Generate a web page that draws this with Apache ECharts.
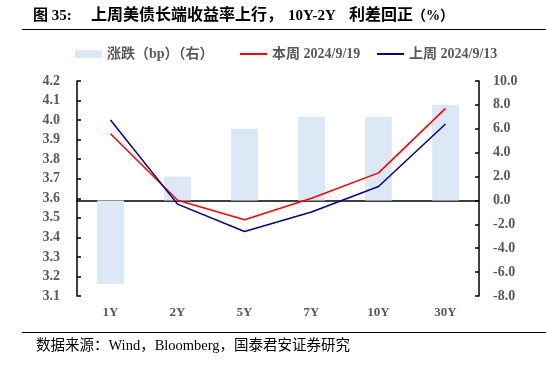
<!DOCTYPE html>
<html><head><meta charset="utf-8">
<script src="https://cdn.jsdelivr.net/npm/echarts@6/dist/echarts.min.js"></script>
<style>html,body{margin:0;padding:0;background:#fff}#c{width:546px;height:374px}</style>
</head><body><div id="c"></div>
<script>
const categories = ['1Y','2Y','5Y','7Y','10Y','30Y'];
const changeBp = [-7.0, 2.0, 6.0, 7.0, 7.0, 8.0];
const thisWeek = [3.93, 3.59, 3.49, 3.60, 3.73, 4.06];
const lastWeek = [4.00, 3.57, 3.43, 3.53, 3.66, 3.98];
const seriesNames = ['涨跌（bp）（右）', '本周 2024/9/19', '上周 2024/9/13'];
const titleParts = ['图 35:', '上周美债长端收益率上行，', '10Y-2Y', '利差回正', '（%）'];
const sourceText = '数据来源：Wind，Bloomberg，国泰君安证券研究';

const FONT = '"Liberation Serif","Noto Sans CJK SC",serif';
const GRAY = '#595959';
const legendText = {fontFamily:FONT, fontSize:14, fontWeight:'bold', color:GRAY};
const chart = echarts.init(document.getElementById('c'), null, {renderer:'canvas'});
chart.setOption({
  animation:false,
  backgroundColor:'#fff',
  textStyle:{fontFamily:FONT},
  graphic:[
    {type:'text', left:33, top:9, style:{text:titleParts[0], font:'bold 15px '+FONT, fill:'#000'}},
    {type:'text', left:91, top:8, style:{text:titleParts[1], font:'bold 16px '+FONT, fill:'#000'}},
    {type:'text', left:288, top:9, style:{text:titleParts[2], font:'bold 15px '+FONT, fill:'#000'}},
    {type:'text', left:349, top:8, style:{text:titleParts[3], font:'bold 16px '+FONT, fill:'#000'}},
    {type:'text', left:412, top:9, style:{text:titleParts[4], font:'bold 14px '+FONT, fill:'#000'}},
    {type:'line', shape:{x1:22,y1:29.5,x2:546,y2:29.5}, style:{stroke:'#000', lineWidth:1}},
    {type:'line', shape:{x1:22,y1:332.5,x2:546,y2:332.5}, style:{stroke:'#000', lineWidth:1}},
    {type:'text', left:36, top:339, style:{text:sourceText, font:'14.5px '+FONT, fill:'#000'}}
  ],
  legend:[
    {left:75, top:47, padding:0, itemWidth:27, itemHeight:8, textStyle:legendText,
     data:[{name:seriesNames[0], icon:'rect'}]},
    {left:240, top:47, padding:0, itemWidth:27, itemHeight:2, textStyle:legendText,
     data:[{name:seriesNames[1], icon:'rect'}]},
    {left:377, top:47, padding:0, itemWidth:27, itemHeight:2, textStyle:legendText,
     data:[{name:seriesNames[2], icon:'rect'}]}
  ],
  grid:{left:77, right:67, top:81, bottom:78, containLabel:false},
  xAxis:{
    type:'category', data:categories, boundaryGap:true,
    axisLine:{lineStyle:{color:'#000', width:1.5}},
    axisTick:{show:false},
    axisLabel:{color:GRAY, fontWeight:'bold', fontSize:13, fontFamily:FONT, margin:10}
  },
  yAxis:[
    {type:'value', min:3.1, max:4.2, interval:0.1, position:'left',
     axisLine:{show:true, lineStyle:{color:'#000', width:1.5}},
     axisTick:{show:true, inside:true, length:4, lineStyle:{color:'#000', width:1.5}},
     splitLine:{show:false},
     axisLabel:{color:GRAY, fontWeight:'bold', fontSize:14, fontFamily:FONT, margin:17,
       formatter:v=>v.toFixed(1)}},
    {type:'value', min:-8, max:10, interval:2, position:'right',
     axisLine:{show:true, lineStyle:{color:'#000', width:1.5}},
     axisTick:{show:true, inside:true, length:4, lineStyle:{color:'#000', width:1.5}},
     splitLine:{show:false},
     axisLabel:{color:GRAY, fontWeight:'bold', fontSize:14, fontFamily:FONT, margin:14,
       formatter:v=>v.toFixed(1)}}
  ],
  series:[
    {name:seriesNames[0], type:'bar', yAxisIndex:1, data:changeBp, barWidth:'40%',
     itemStyle:{color:'#dce8f5'}},
    {name:seriesNames[1], type:'line', yAxisIndex:0, data:thisWeek, symbol:'none',
     lineStyle:{color:'#ff0000', width:1.5}, itemStyle:{color:'#ff0000'}},
    {name:seriesNames[2], type:'line', yAxisIndex:0, data:lastWeek, symbol:'none',
     lineStyle:{color:'#000080', width:1.5}, itemStyle:{color:'#000080'}}
  ]
});
</script></body></html>
